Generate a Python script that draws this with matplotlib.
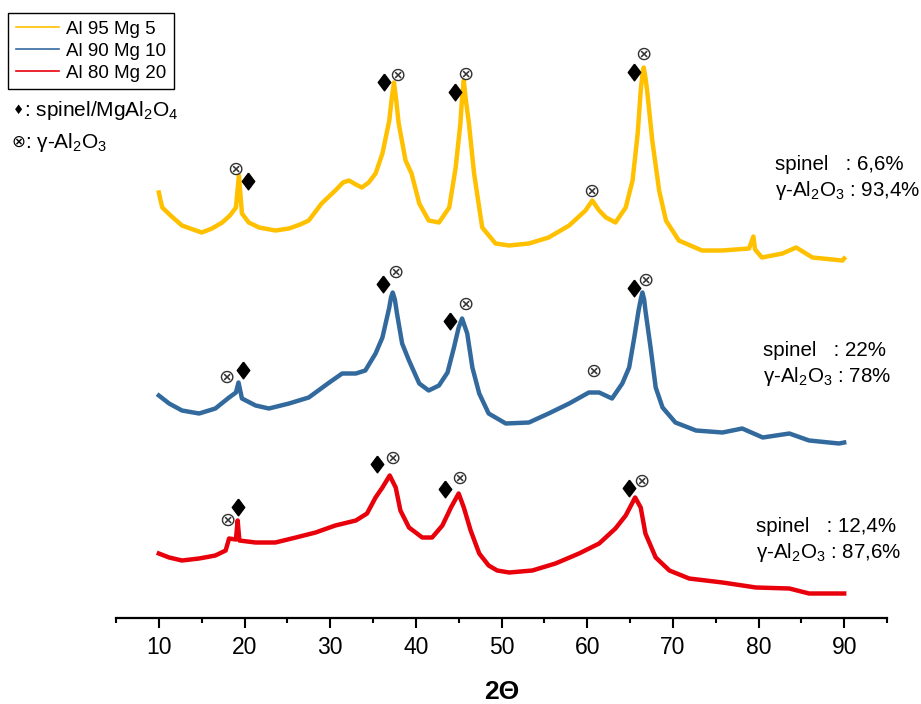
import numpy as np
import matplotlib
matplotlib.use("Agg")
import matplotlib.pyplot as plt
from matplotlib.ticker import MultipleLocator
from matplotlib.lines import Line2D

plt.rcParams['font.family'] = ['Liberation Sans', 'DejaVu Sans']
plt.rcParams['mathtext.fontset'] = 'custom'
plt.rcParams['mathtext.rm'] = 'Liberation Sans'
plt.rcParams['mathtext.it'] = 'Liberation Sans:italic'
plt.rcParams['mathtext.default'] = 'regular'

# XRD patterns (2theta, stacked intensity in a.u.)
tt_mg5 = [10.0, 10.2, 10.4, 11.5, 12.7, 14.0, 15.0, 16.2, 17.4, 18.3, 19.0, 19.35, 19.7, 20.5,
          21.7, 23.6, 25.2, 26.5, 27.5, 29.0, 30.6, 31.5, 32.2, 33.0, 33.7, 34.5, 35.3, 36.1,
          36.9, 37.2, 37.45, 37.7, 38.0, 38.8, 39.5, 40.4, 41.5, 42.7, 43.9, 44.65, 45.2, 45.4,
          45.6, 45.8, 46.2, 46.8, 47.75, 49.3, 50.9, 53.2, 55.5, 57.9, 59.8, 60.6, 61.4, 62.2,
          63.3, 64.5, 65.3, 65.9, 66.25, 66.45, 66.6, 66.8, 67.0, 67.6, 68.4, 69.2, 70.7, 73.4,
          75.75, 78.9, 79.4, 79.6, 80.4, 82.8, 84.4, 86.3, 89.8, 90.0]
int_mg5 = [425, 417, 410, 401, 392, 388, 385, 389, 395, 402, 410, 442, 404, 395,
           390, 387, 389, 393, 397, 414, 427, 435, 437, 433, 430, 435, 444, 464,
           497, 520, 535, 518, 494, 457, 444, 414, 397, 395, 410, 450, 494, 520,
           537, 520, 494, 444, 390, 374, 372, 374, 380, 392, 407, 417, 407, 400,
           395, 410, 437, 484, 527, 543, 550, 540, 527, 477, 427, 397, 377, 367,
           367, 369, 381, 368, 360, 364, 370, 360, 357, 359]

tt_mg10 = [10.0, 11.2, 12.7, 14.7, 16.6, 18.2, 19.0, 19.3, 19.7, 21.3, 22.85, 25.2, 27.5, 29.9,
           31.4, 33.0, 34.1, 35.3, 36.1, 36.9, 37.1, 37.3, 37.55, 37.8, 38.4, 39.2, 40.4, 41.5,
           42.7, 43.7, 44.45, 45.0, 45.4, 46.0, 46.6, 47.4, 48.5, 49.5, 50.5, 53.2, 55.5, 57.9,
           60.2, 61.4, 62.9, 64.1, 64.9, 65.5, 66.0, 66.25, 66.45, 66.65, 66.8, 67.4, 68.0, 68.8,
           70.3, 72.7, 75.8, 78.1, 80.5, 83.6, 85.9, 89.4, 90.0]
int_mg10 = [222, 214, 207, 204, 209, 220, 225, 235, 219, 212, 209, 214, 220, 235,
            244, 244, 247, 264, 280, 310, 320, 325, 318, 304, 274, 257, 234, 227,
            232, 245, 270, 290, 299, 284, 250, 224, 204, 199, 194, 195, 204, 214,
            225, 225, 219, 234, 250, 280, 307, 318, 325, 318, 307, 270, 230, 210,
            195, 187, 185, 189, 180, 184, 177, 174, 175]

tt_mg20 = [10.0, 11.2, 12.7, 14.7, 16.6, 17.8, 18.2, 19.0, 19.2, 19.4, 21.3, 23.6, 26.0, 28.3,
           30.6, 33.0, 34.3, 35.3, 36.1, 36.95, 37.65, 38.2, 39.2, 40.75, 41.9, 43.1, 44.1, 45.0,
           45.6, 46.4, 47.4, 48.5, 49.5, 50.9, 53.6, 56.3, 59.05, 61.4, 63.3, 64.5, 65.6, 66.25,
           66.8, 68.0, 69.6, 71.9, 75.8, 79.7, 83.6, 85.9, 89.6, 90.0]
int_mg20 = [64, 60, 57, 59, 62, 67, 79, 78, 97, 77, 75, 75, 80, 85,
            92, 97, 104, 120, 130, 142, 130, 107, 90, 80, 80, 92, 110, 124,
            110, 87, 64, 52, 47, 45, 47, 54, 64, 74, 89, 102, 120, 110,
            84, 60, 47, 39, 35, 30, 29, 24, 24, 24]

labels = ['Al 95 Mg 5', 'Al 90 Mg 10', 'Al 80 Mg 20']
colors = ['#FFC000', '#336A9E', '#E8000B']

# phase marks: (2theta, height) for spinel (diamond) and gamma-Al2O3 (circle-x)
spinel_tt = [20.37, 36.27, 44.56, 65.47, 19.85, 36.12, 43.97, 65.44, 19.27, 35.49, 43.41, 64.88]
spinel_h = [436.8, 535.8, 525.8, 545.2, 247.5, 333.5, 296.8, 329.2, 110.8, 153.2, 128.2, 129.8]
gamma_tt = [18.89, 37.82, 45.84, 60.51, 66.61, 17.92, 37.59, 45.76, 60.69, 66.84,
            17.99, 37.29, 45.14, 66.33]
gamma_h = [448.5, 541.8, 543.2, 426.5, 563.2, 240.2, 344.8, 313.2, 245.8, 336.8,
           97.5, 159.2, 139.2, 136.5]

phase_text = [('spinel   : 6,6%', r'γ-Al$_2$O$_3$ : 93,4%'),
              ('spinel   : 22%', r'γ-Al$_2$O$_3$ : 78%'),
              ('spinel   : 12,4%', r'γ-Al$_2$O$_3$ : 87,6%')]
text_pos = [(81.9, 452.5, 427.5), (80.5, 267.5, 240.5), (79.7, 90.5, 64.5)]

fig = plt.figure(figsize=(9.21, 7.04), dpi=100)
ax = fig.add_axes([116 / 921, (704 - 617.5) / 704, (887 - 116) / 921, 617.5 / 704])

for tt, inten, c in zip([tt_mg5, tt_mg10, tt_mg20], [int_mg5, int_mg10, int_mg20], colors):
    ax.plot(tt, inten, color=c, lw=3.2)

diamond = [(0, 1), (0.75, 0), (0, -1), (-0.75, 0), (0, 1)]
ax.plot(spinel_tt, spinel_h, ls='none', marker=diamond, ms=12, color='black')
for t, h in zip(gamma_tt, gamma_h):
    ax.text(t, h, '⊗', family='DejaVu Sans', fontsize=14, color='#333333',
            ha='center', va='center')

for (l1, l2), (tx, y1, y2) in zip(phase_text, text_pos):
    ax.text(tx, y1, l1, fontsize=14.8, va='center', ha='left')
    ax.text(tx, y2, l2, fontsize=14.8, va='center', ha='left')

ax.set_xlim(5, 95)
ax.set_ylim(0, 617.5)
ax.xaxis.set_major_locator(MultipleLocator(10))
ax.xaxis.set_minor_locator(MultipleLocator(5))
ax.set_xticks(np.arange(10, 91, 10))
for s in ['left', 'right', 'top']:
    ax.spines[s].set_visible(False)
ax.spines['bottom'].set_linewidth(1.6)
ax.set_yticks([])
ax.tick_params(axis='x', which='major', length=7.5, width=1.5, labelsize=16.5, pad=6)
ax.tick_params(axis='x', which='minor', length=3.5, width=1.5)
ax.set_xlabel('2Θ', fontsize=19, fontweight='bold', labelpad=15)
ax.patch.set_visible(False)

handles = [Line2D([], [], color=c, lw=1.2) for c in colors]
leg = fig.legend(handles, labels, loc='upper left', bbox_to_anchor=(8 / 921, 1 - 13 / 704),
                 fontsize=13.5, frameon=True, fancybox=False, edgecolor='black', framealpha=1,
                 handlelength=2.3, handletextpad=0.4, labelspacing=0.26, borderpad=0.4,
                 borderaxespad=0)
leg.get_frame().set_linewidth(1.0)

fig.text(18.5 / 921, 1 - 110 / 704, '♦', family='DejaVu Sans', fontsize=9, ha='center', va='center')
fig.text(24 / 921, 1 - 110 / 704, r': spinel/MgAl$_2$O$_4$', fontsize=15, ha='left', va='center')
fig.text(18.5 / 921, 1 - 142 / 704, '⊗', family='DejaVu Sans', fontsize=12, ha='center', va='center')
fig.text(25 / 921, 1 - 142 / 704, r': γ-Al$_2$O$_3$', fontsize=15, ha='left', va='center')

fig.savefig('out.png', dpi=100)
